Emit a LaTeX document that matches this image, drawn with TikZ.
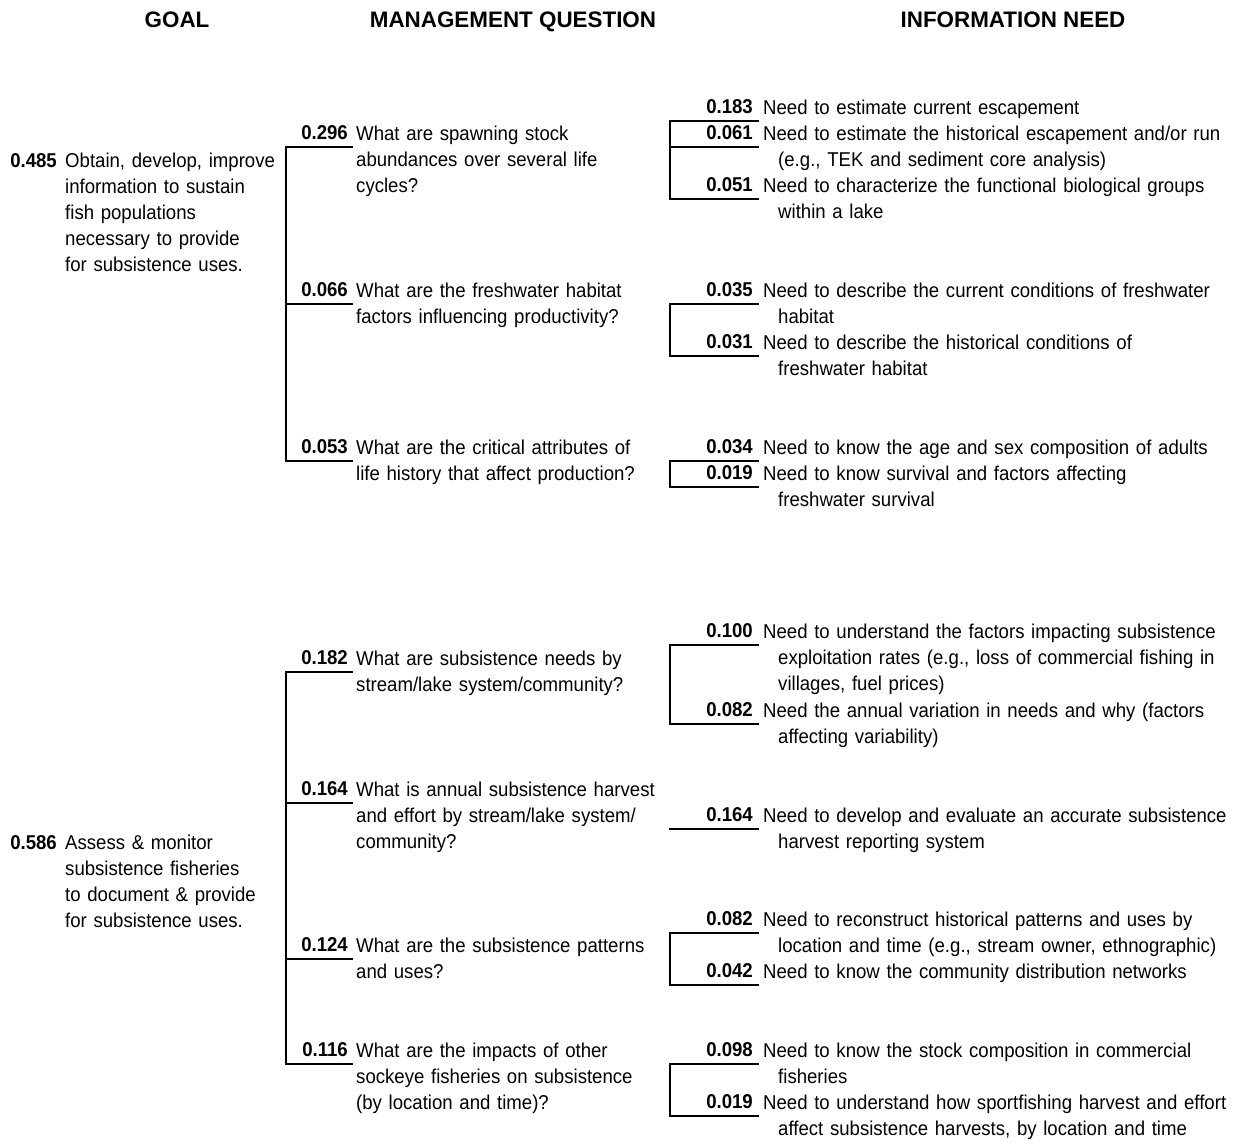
\documentclass[tikz,border=0pt]{standalone}
\usepackage{fontspec}
\setmainfont[FakeStretch=0.93]{Liberation Sans}
\newfontfamily\headfont{Liberation Sans}
\begin{document}
\begin{tikzpicture}[x=1pt,y=-1pt,
  every node/.style={inner sep=0pt,font=\fontsize{20}{26}\selectfont},
  head/.style={anchor=base,font=\headfont\fontsize{22.4}{26}\selectfont\bfseries},
  gnum/.style={anchor=base east,font=\fontsize{20}{26}\selectfont\bfseries},
  qnum/.style={anchor=south east,inner xsep=4pt,inner ysep=7pt,font=\fontsize{20}{26}\selectfont\bfseries},
  inum/.style={anchor=south east,inner xsep=5pt,inner ysep=7pt,font=\fontsize{20}{26}\selectfont\bfseries},
  gtext/.style={anchor=base west,text width=230pt,align=left},
  qtext/.style={anchor=base west,text width=330pt,align=left},
  itext/.style={anchor=base west,text width=468pt,align=left},
  conn/.style={line width=2pt,line cap=rect}]
\useasboundingbox (0,0) rectangle (1233,1144);
\newcommand{\ind}{\\\hspace*{15pt}}
% headers
\node[head] (hgoal) at (177,27) {GOAL};
\node[head] (hmq) at (513,27) {MANAGEMENT QUESTION};
\node[head] (hin) at (1013,27) {INFORMATION NEED};

% ---------- group 1 ----------
\node[gnum] (g1n) at (57,167) {0.485};
\node[gtext] (g1t) at (65,167) {Obtain, develop, improve\\information to sustain\\fish populations\\necessary to provide\\for subsistence uses.};

\node[qnum] (q296) at (352,147) {0.296};
\node[qtext] (q296t) at (356,140) {What are spawning stock\\abundances over several life\\cycles?};
\node[qnum] (q066) at (352,304) {0.066};
\node[qtext] (q066t) at (356,297) {What are the freshwater habitat\\factors influencing productivity?};
\node[qnum] (q053) at (352,461) {0.053};
\node[qtext] (q053t) at (356,454) {What are the critical attributes of\\life history that affect production?};

\coordinate (s1) at (286,300);
\draw[conn] (q296.south east) -| (s1) |- (q053.south east);
\draw[conn] (q066.south east) -- (q066.south east -| s1);

\node[inum] (i183) at (758,121) {0.183};
\node[itext] (i183t) at (763,114) {Need to estimate current escapement};
\node[inum] (i061) at (758,147) {0.061};
\node[itext] (i061t) at (763,140) {Need to estimate the historical escapement and/or run\ind(e.g., TEK and sediment core analysis)};
\node[inum] (i051) at (758,199) {0.051};
\node[itext] (i051t) at (763,192) {Need to characterize the functional biological groups\ind within a lake};
\coordinate (t1) at (670,160);
\draw[conn] (i183.south east) -| (t1) |- (i051.south east);
\draw[conn] (i061.south east) -- (i061.south east -| t1);

\node[inum] (i035) at (758,304) {0.035};
\node[itext] (i035t) at (763,297) {Need to describe the current conditions of freshwater\ind habitat};
\node[inum] (i031) at (758,356) {0.031};
\node[itext] (i031t) at (763,349) {Need to describe the historical conditions of\ind freshwater habitat};
\coordinate (t2) at (670,330);
\draw[conn] (i035.south east) -| (t2) |- (i031.south east);

\node[inum] (i034) at (758,461) {0.034};
\node[itext] (i034t) at (763,454) {Need to know the age and sex composition of adults};
\node[inum] (i019) at (758,487) {0.019};
\node[itext] (i019t) at (763,480) {Need to know survival and factors affecting\ind freshwater survival};
\coordinate (t3) at (670,474);
\draw[conn] (i034.south east) -| (t3) |- (i019.south east);

% ---------- group 2 ----------
\node[gnum] (g2n) at (57,849) {0.586};
\node[gtext] (g2t) at (65,849) {Assess \& monitor\\subsistence fisheries\\to document \& provide\\for subsistence uses.};

\node[qnum] (q182) at (352,672) {0.182};
\node[qtext] (q182t) at (356,665) {What are subsistence needs by\\stream/lake system/community?};
\node[qnum] (q164) at (352,803) {0.164};
\node[qtext] (q164t) at (356,796) {What is annual subsistence harvest\\and effort by stream/lake system/\\community?};
\node[qnum] (q124) at (352,959) {0.124};
\node[qtext] (q124t) at (356,952) {What are the subsistence patterns\\and uses?};
\node[qnum] (q116) at (352,1064) {0.116};
\node[qtext] (q116t) at (356,1057) {What are the impacts of other\\sockeye fisheries on subsistence\\(by location and time)?};

\coordinate (s2) at (286,860);
\draw[conn] (q182.south east) -| (s2) |- (q116.south east);
\draw[conn] (q164.south east) -- (q164.south east -| s2);
\draw[conn] (q124.south east) -- (q124.south east -| s2);

\node[inum] (i100) at (758,645) {0.100};
\node[itext] (i100t) at (763,638) {Need to understand the factors impacting subsistence\ind exploitation rates (e.g., loss of commercial fishing in\ind villages, fuel prices)};
\node[inum] (i082a) at (758,724) {0.082};
\node[itext] (i082at) at (763,717) {Need the annual variation in needs and why (factors\ind affecting variability)};
\coordinate (t4) at (670,684);
\draw[conn] (i100.south east) -| (t4) |- (i082a.south east);

\node[inum] (i164) at (758,829) {0.164};
\node[itext] (i164t) at (763,822) {Need to develop and evaluate an accurate subsistence\ind harvest reporting system};
\coordinate (t5) at (670,829);
\draw[conn] (i164.south east) -- (t5);

\node[inum] (i082b) at (758,933) {0.082};
\node[itext] (i082bt) at (763,926) {Need to reconstruct historical patterns and uses by\ind location and time (e.g., stream owner, ethnographic)};
\node[inum] (i042) at (758,985) {0.042};
\node[itext] (i042t) at (763,978) {Need to know the community distribution networks};
\coordinate (t6) at (670,959);
\draw[conn] (i082b.south east) -| (t6) |- (i042.south east);

\node[inum] (i098) at (758,1064) {0.098};
\node[itext] (i098t) at (763,1057) {Need to know the stock composition in commercial\ind fisheries};
\node[inum] (i019b) at (758,1116) {0.019};
\node[itext] (i019bt) at (763,1109) {Need to understand how sportfishing harvest and effort\ind affect subsistence harvests, by location and time};
\coordinate (t7) at (670,1090);
\draw[conn] (i098.south east) -| (t7) |- (i019b.south east);
\end{tikzpicture}
\end{document}
